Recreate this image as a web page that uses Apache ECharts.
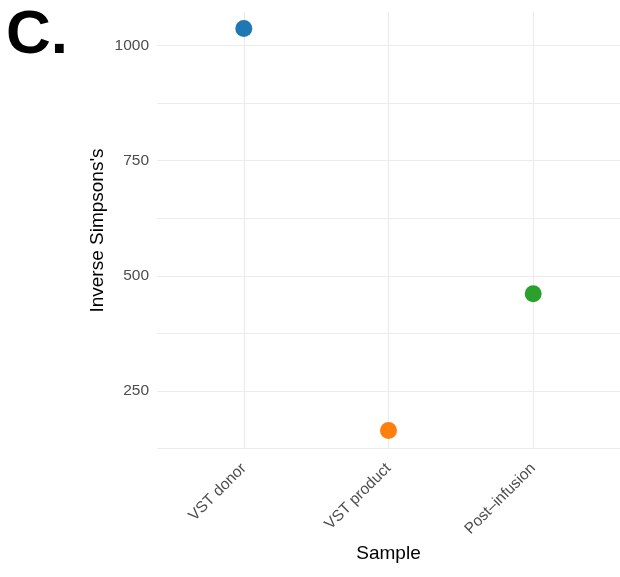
<!DOCTYPE html>
<html>
<head>
<meta charset="utf-8">
<script src="https://cdn.jsdelivr.net/npm/echarts@6/dist/echarts.min.js"></script>
<style>
html,body{margin:0;padding:0;background:#fff;}
#c{width:620px;height:577px;}
</style>
</head>
<body>
<div id="c"></div>
<script>
const categories = ["VST donor", "VST product", "Post\u2013infusion"];
const values = [1037, 164, 461];
const colors = ["#1f77b4", "#ff7f0e", "#2ca02c"];
const yTickLabels = [250, 500, 750, 1000];
const yGridValues = [125, 250, 375, 500, 625, 750, 875, 1000];

const chart = echarts.init(document.getElementById('c'), null, {renderer: 'canvas'});
const data = values.map((v, i) => ({value: [i, v], itemStyle: {color: colors[i], opacity: 1}}));
chart.setOption({
  animation: false,
  backgroundColor: '#ffffff',
  graphic: [{
    type: 'text', left: 6, top: 5,
    style: {text: 'C.', font: 'bold 62px "Liberation Sans", Arial, sans-serif', fill: '#000'}
  }],
  grid: {left: 157, right: 0, top: 12, bottom: 128},
  xAxis: {
    type: 'value', min: -0.6, max: 2.6,
    name: 'Sample', nameLocation: 'middle', nameGap: 95,
    nameTextStyle: {fontFamily: 'Liberation Sans', fontSize: 19, color: '#000'},
    axisLine: {show: false},
    axisTick: {show: false, customValues: [0, 1, 2]},
    splitLine: {show: true, lineStyle: {color: '#ebebeb', width: 1.2}},
    axisLabel: {
      customValues: [0, 1, 2], rotate: 45, margin: 17,
      fontFamily: 'Liberation Sans', fontSize: 15.5, color: '#4d4d4d',
      formatter: v => categories[v]
    }
  },
  yAxis: {
    type: 'value', min: 124, max: 1073,
    name: "Inverse Simpsons's", nameLocation: 'middle', nameGap: 50, nameRotate: 90,
    nameMoveOverlap: false,
    nameTextStyle: {fontFamily: 'Liberation Sans', fontSize: 19, color: '#000'},
    axisLine: {show: false},
    axisTick: {show: false, customValues: yGridValues},
    splitLine: {show: true, lineStyle: {color: '#ebebeb', width: 1.2}},
    axisLabel: {
      customValues: yTickLabels, margin: 8,
      fontFamily: 'Liberation Sans', fontSize: 15.5, color: '#4d4d4d',
      formatter: v => String(v)
    }
  },
  series: [{
    type: 'scatter', data: data, symbolSize: 17
  }]
});
</script>
</body>
</html>
